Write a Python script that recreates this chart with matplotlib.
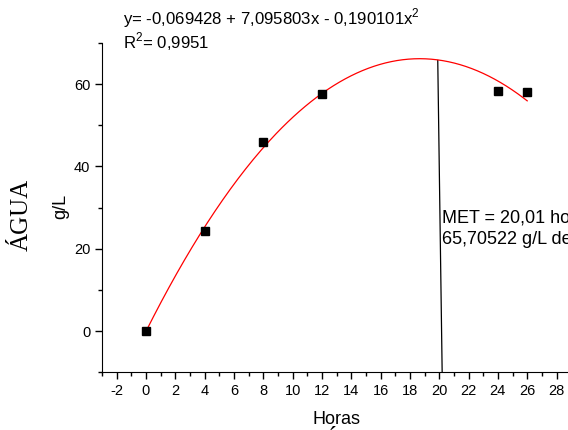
import numpy as np
import matplotlib.pyplot as plt
from matplotlib.ticker import MultipleLocator

# data
horas = [0, 4, 8, 12, 24, 26]
agua = [0.0, 24.2, 46.0, 57.6, 58.3, 58.0]
coef = [-0.069428, 7.095803, -0.190101]
met_x = 20.01
met_y = 65.70522

plt.rcParams['font.family'] = ['Liberation Sans', 'DejaVu Sans']
plt.rcParams['axes.unicode_minus'] = False
plt.rcParams['mathtext.fontset'] = 'custom'
plt.rcParams['mathtext.rm'] = 'Liberation Sans'

fig = plt.figure(figsize=(5.68, 4.30), dpi=100)
ax = fig.add_axes([0.1796, 0.1344, 0.826, 0.766])

xf = np.linspace(0, 26, 200)
yf = coef[0] + coef[1] * xf + coef[2] * xf ** 2
ax.plot(xf, yf, color='red', lw=0.9, zorder=2)
ax.plot(horas, agua, 's', color='black', ms=6, zorder=3)

# MET line
ax.plot([19.9, 20.2], [met_y, -10], color='black', lw=0.9, zorder=1)

ax.set_xlim(-3, 29)
ax.set_ylim(-10, 70)
ax.xaxis.set_major_locator(MultipleLocator(2))
ax.xaxis.set_minor_locator(MultipleLocator(1))
ax.yaxis.set_major_locator(MultipleLocator(20))
ax.yaxis.set_minor_locator(MultipleLocator(10))
ax.tick_params(which='major', direction='out', length=5, width=1, labelsize=10.5)
ax.tick_params(which='minor', direction='out', length=3, width=1)
for s in ['top', 'right']:
    ax.spines[s].set_visible(False)

ax.set_xlabel('Horas', fontsize=13, labelpad=9)
fig.text(0.107, 0.519, 'g/L', rotation=90, fontsize=13, ha='center', va='center')
fig.text(0.039, 0.50, 'ÁGUA', rotation=90, fontsize=18, family='Liberation Serif',
         ha='center', va='center')
fig.text(0.585, -0.054, 'Á', fontsize=18, family='Liberation Serif', ha='center', va='bottom')

fig.text(0.217, 0.958, 'y= -0,069428 + 7,095803x - 0,190101x$^2$', fontsize=12.1, va='center')
fig.text(0.217, 0.902, 'R$^2$= 0,9951', fontsize=12.1, va='center')
fig.text(0.778, 0.493, 'MET = 20,01 horas', fontsize=13, va='center')
fig.text(0.778, 0.442, '65,70522 g/L de água', fontsize=13, va='center')

fig.savefig('out.png', dpi=100)
